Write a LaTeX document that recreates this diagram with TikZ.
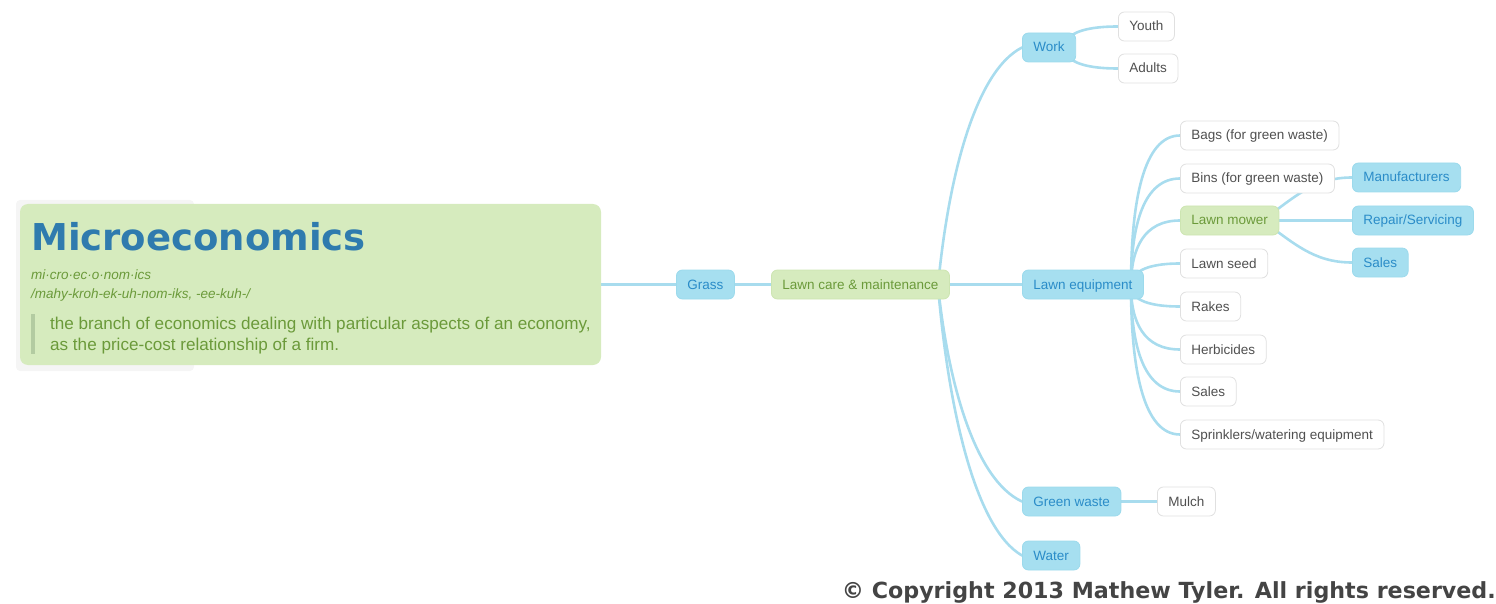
\documentclass[tikz,border=0pt]{standalone}
\usepackage{fontspec}
\setmainfont{Liberation Sans}
\newfontfamily\dejavu{DejaVu Sans}
\usetikzlibrary{calc,backgrounds}
\definecolor{bfill}{HTML}{A6DFF0}
\definecolor{bdraw}{HTML}{9CDAEC}
\definecolor{btext}{HTML}{2A8CC8}
\definecolor{gfill}{HTML}{D6EBBE}
\definecolor{gdraw}{HTML}{CDE5B2}
\definecolor{gtext}{HTML}{6B9A3A}
\definecolor{wdraw}{HTML}{E0E0E0}
\definecolor{wtext}{HTML}{505050}
\definecolor{cline}{HTML}{A8DCEE}
\definecolor{ttl}{HTML}{2F7BAE}
\definecolor{barc}{HTML}{B3CBA1}
\definecolor{copyc}{HTML}{444444}
\tikzset{
 box/.style={rectangle, rounded corners=6pt, minimum height=29pt, inner xsep=11pt, inner ysep=0pt,
   text height=11pt, text depth=2pt, font=\fontsize{13.5}{16}\selectfont, anchor=west, line width=0.8pt},
 bluebox/.style={box, fill=bfill, draw=bdraw, text=btext},
 greenbox/.style={box, fill=gfill, draw=gdraw, text=gtext},
 whitebox/.style={box, fill=white, draw=wdraw, text=wtext},
 conn/.style={draw=cline, line width=2.6pt, line cap=round},
 plain/.style={anchor=base west, inner sep=0pt},
}
\newcommand\fanedge[2]{\draw[conn] let \p1=(#1), \p2=(#2) in (\p1) .. controls (\x1,{\y1+0.57*(\y2-\y1)}) and ({\x1+0.26*(\x2-\x1)},\y2) .. (\p2);}
\newcommand\longedge[2]{\draw[conn] let \p1=(#1), \p2=(#2) in (\p1) .. controls ({\x1+0.12*(\x2-\x1)},{\y1+0.45*(\y2-\y1)}) and ({\x1+0.44*(\x2-\x1)},{\y1+0.9*(\y2-\y1)}) .. (\p2);}
\begin{document}
\begin{tikzpicture}[x=1pt,y=-1pt]
\useasboundingbox (0,0) rectangle (1496,604);
% central card
\fill[black!4, rounded corners=4pt] (16,200) rectangle (194,371);
\node[fill=gfill, rounded corners=8pt, minimum width=581pt, minimum height=161pt, inner sep=0pt] (main) at (310.5,284.5) {};
\node[plain, text=ttl, font=\dejavu\bfseries\fontsize{37}{40}\selectfont] (title) at (31,251) {Microeconomics};
\node[plain, text=gtext, font=\itshape\fontsize{13.5}{16}\selectfont] (syl) at (31,279) {mi·cro·ec·o·nom·ics};
\node[plain, text=gtext, font=\itshape\fontsize{13.5}{16}\selectfont] (pron) at (31,298) {/mahy-kroh-ek-uh-nom-iks, -ee-kuh-/};
\node[fill=barc, minimum width=4pt, minimum height=40pt, inner sep=0pt] (bar) at (33,334) {};
\node[plain, text=gtext, font=\fontsize{17.1}{20}\selectfont] (desca) at (50,329) {the branch of economics dealing with particular aspects of an economy,};
\node[plain, text=gtext, font=\fontsize{17.1}{20}\selectfont] (descb) at (50,350) {as the price-cost relationship of a firm.};
% nodes
\node[bluebox] (grass) at (676,284.5) {Grass};
\node[greenbox] (care) at (771,284.5) {Lawn care \& maintenance};
\node[bluebox] (equip) at (1022,284.5) {Lawn equipment};
\node[bluebox] (work) at (1022,47.5) {Work};
\node[whitebox] (youth) at (1118,26.5) {Youth};
\node[whitebox] (adults) at (1118,68.5) {Adults};
\node[whitebox] (bags) at (1180,135.5) {Bags (for green waste)};
\node[whitebox] (bins) at (1180,178.5) {Bins (for green waste)};
\node[greenbox] (mower) at (1180,220.5) {Lawn mower};
\node[whitebox] (seed) at (1180,263.5) {Lawn seed};
\node[whitebox] (rakes) at (1180,306.5) {Rakes};
\node[whitebox] (herb) at (1180,349.5) {Herbicides};
\node[whitebox] (sales) at (1180,391.5) {Sales};
\node[whitebox] (sprink) at (1180,434.5) {Sprinklers/watering equipment};
\node[bluebox] (manuf) at (1352,177.5) {Manufacturers};
\node[bluebox] (repair) at (1352,220.5) {Repair/Servicing};
\node[bluebox] (salesb) at (1352,262.5) {Sales};
\node[bluebox] (green) at (1022,501.5) {Green waste};
\node[whitebox] (mulch) at (1157,501.5) {Mulch};
\node[bluebox] (water) at (1022,555.5) {Water};
\coordinate (careo) at (938,286);
\coordinate (equipo) at (1131,286);
\coordinate (worko) at (1065,47.5);
\coordinate (mowero) at (1262,220.5);
\node[anchor=base east, inner sep=0pt, text=copyc, font=\dejavu\bfseries\fontsize{22.2}{24}\selectfont] (copy) at (1496,598) {© Copyright 2013 Mathew Tyler. All rights reserved.};
% connectors
\begin{pgfonlayer}{background}
\draw[conn] (main.east) -- (grass.west);
\draw[conn] (grass.east) -- (care.west);
\draw[conn] (care.east) -- (equip.west);
\longedge{careo}{work.west}
\longedge{careo}{green.west}
\longedge{careo}{water.west}
\fanedge{worko}{youth.west}
\fanedge{worko}{adults.west}
\fanedge{equipo}{bags.west}
\fanedge{equipo}{bins.west}
\fanedge{equipo}{mower.west}
\fanedge{equipo}{seed.west}
\fanedge{equipo}{rakes.west}
\fanedge{equipo}{herb.west}
\fanedge{equipo}{sales.west}
\fanedge{equipo}{sprink.west}
\draw[conn] (mowero) to[out=35,in=180] (manuf.west);
\draw[conn] (mowero) -- (repair.west);
\draw[conn] (mowero) to[out=-35,in=180] (salesb.west);
\draw[conn] (green.east) -- (mulch.west);
\end{pgfonlayer}
\end{tikzpicture}
\end{document}
